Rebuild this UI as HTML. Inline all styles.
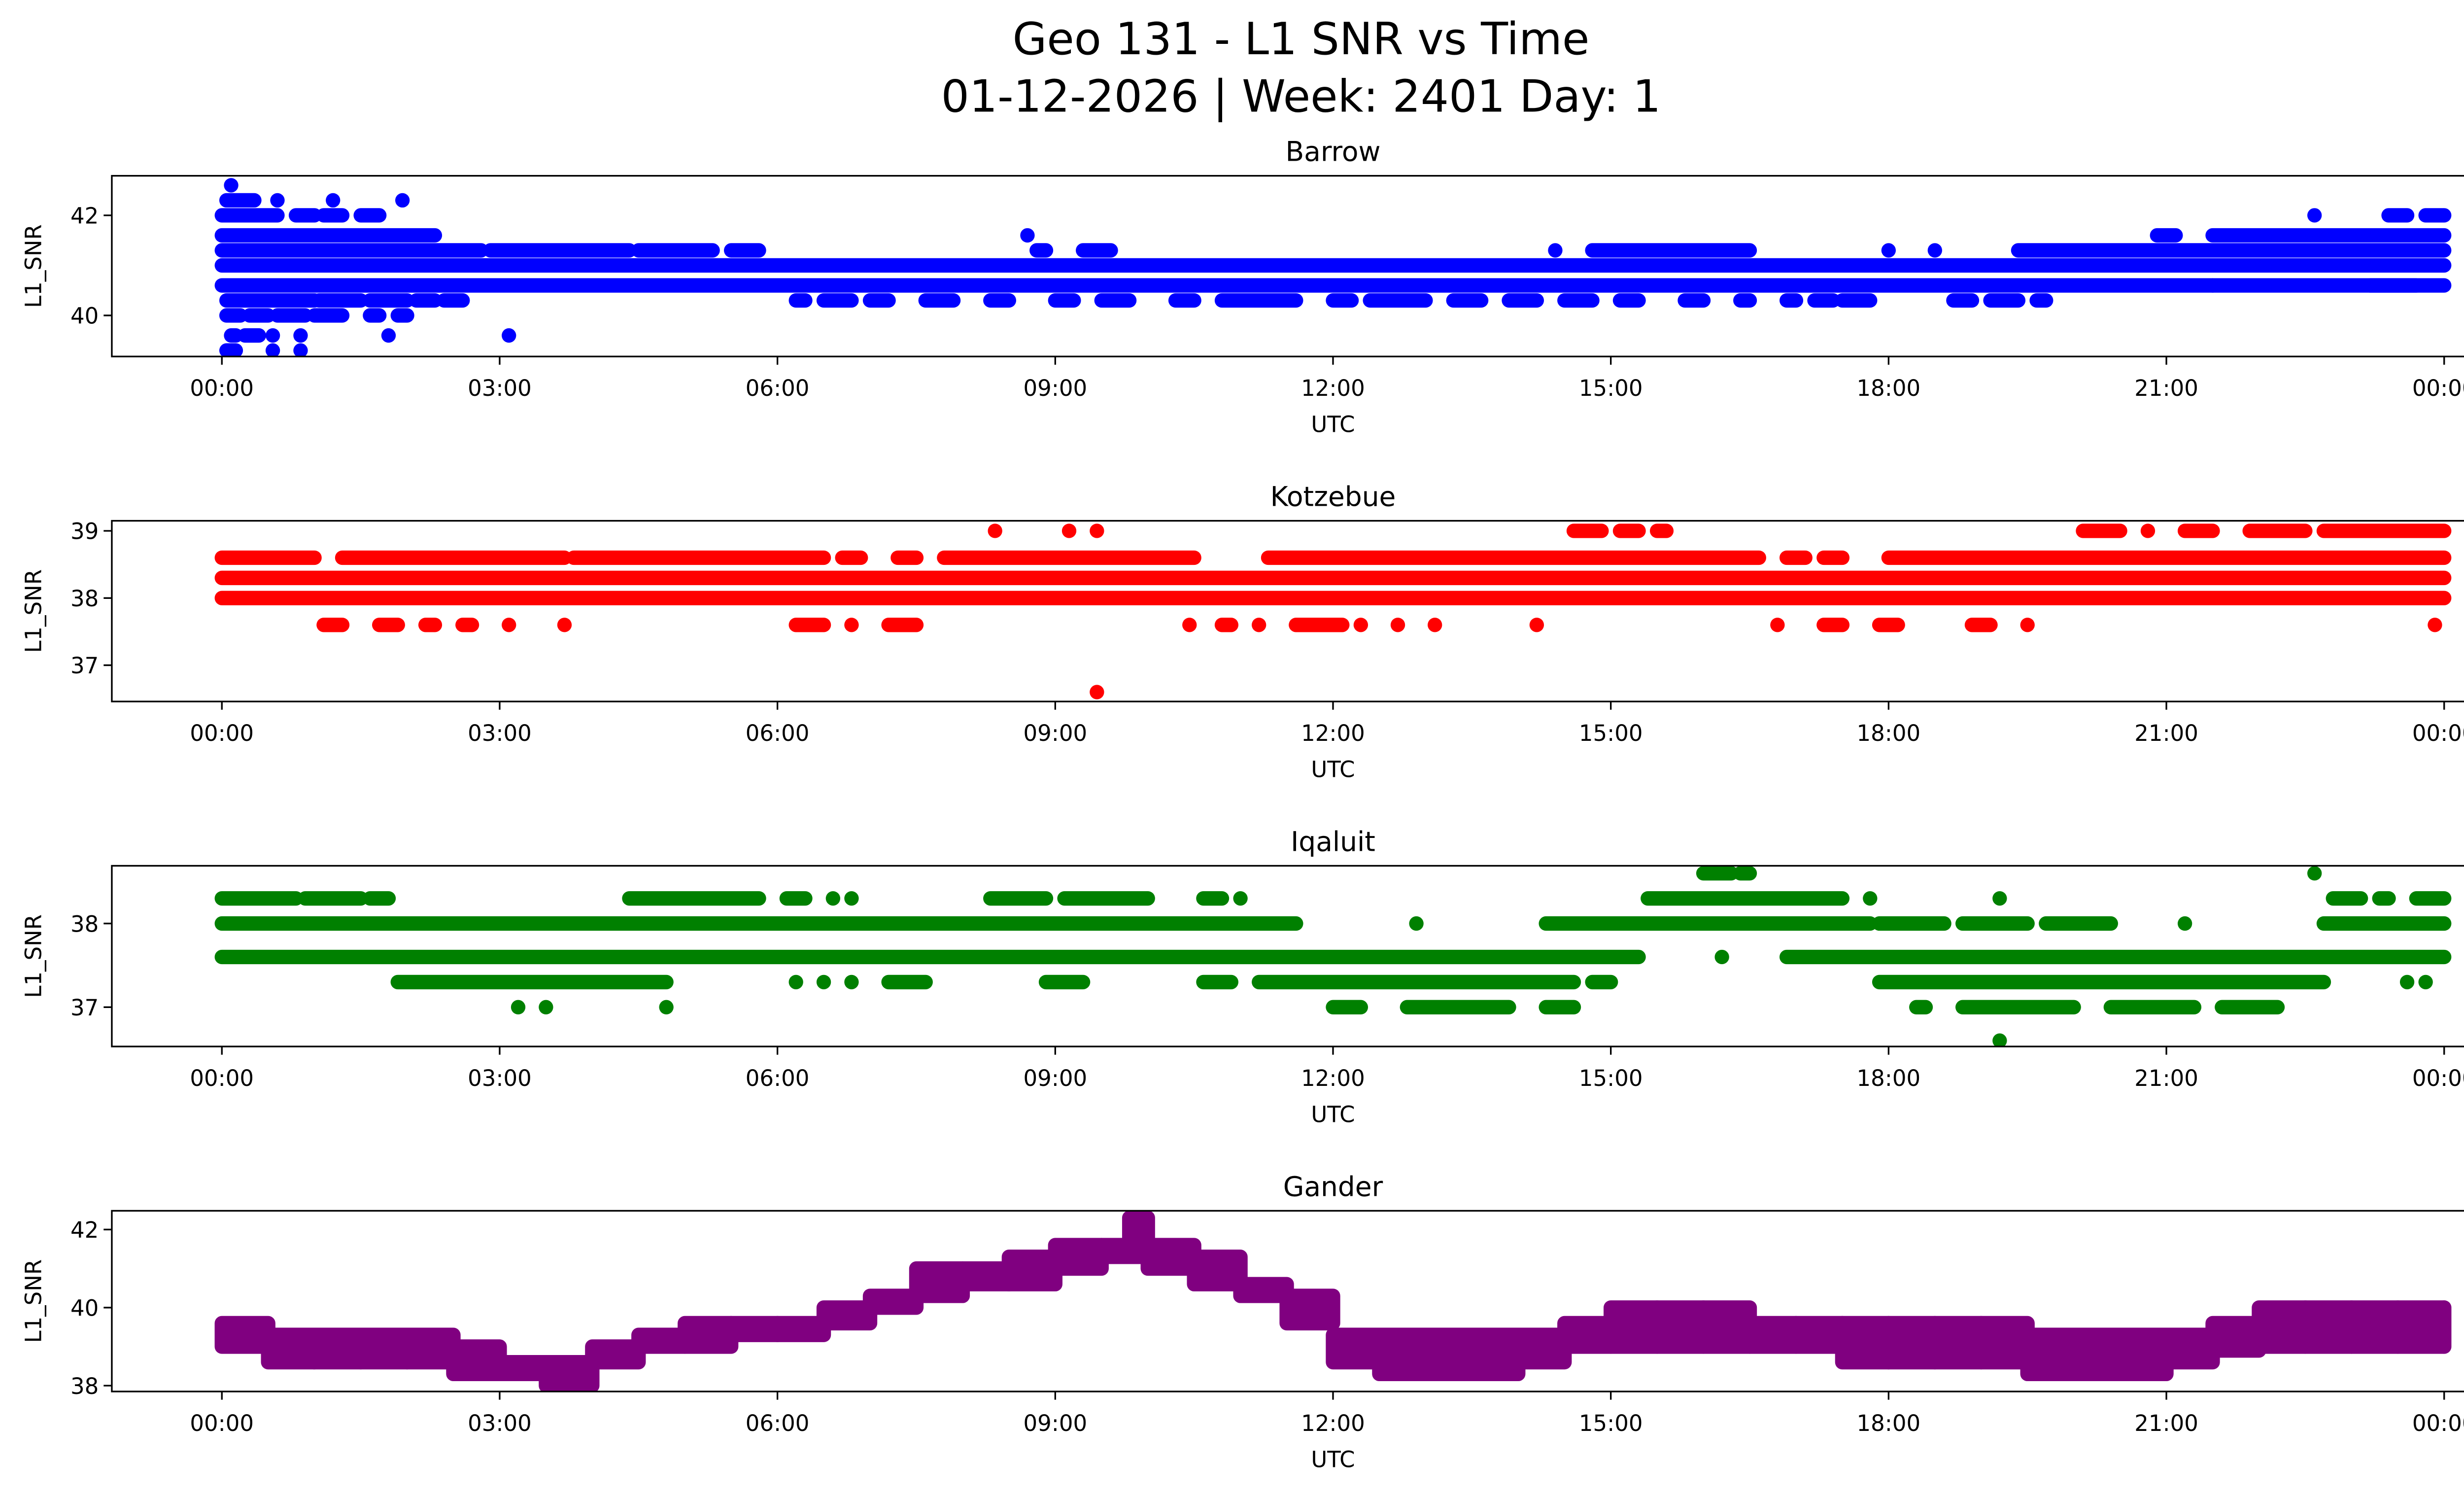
<!DOCTYPE html>
<html><head><meta charset="utf-8"><style>
html,body{margin:0;padding:0;background:#fff}
svg{display:block}
text{font-family:"DejaVu Sans","Liberation Sans",sans-serif;fill:#000}
</style></head><body>
<svg id="fig" width="5225" height="3033" viewBox="0 0 1567.5 910" xmlns="http://www.w3.org/2000/svg">
<rect width="1567.5" height="910" fill="#fff"/>
<text x="792" y="33" font-size="27" text-anchor="middle">Geo 131 - L1 SNR vs Time</text>
<text x="792" y="68" font-size="27" text-anchor="middle">01-12-2026 | Week: 2401 Day: 1</text>
<g id="plots"></g>
</svg>
<script>
// ---- data ----
const xTickLabels = ["00:00","03:00","06:00","09:00","12:00","15:00","18:00","21:00","00:00"];
const xTickHours = [0,3,6,9,12,15,18,21,24];
const stations = ["Barrow","Kotzebue","Iqaluit","Gander"];
const colors = ["#0000ff","#ff0000","#008000","#800080"];
const yDomains = [[39.18,42.79],[36.46,39.15],[36.53,38.69],[37.85,42.48]];
const yTicks = [[40,42],[37,38,39],[37,38],[38,40,42]];

// Barrow: [level, startHour, endHour] runs of consecutive samples
const barrowRuns = [
 [41.0,0,24],[40.6,0,24],
 [41.3,0,2.8],[41.3,2.9,4.4],[41.3,4.5,5.3],[41.3,5.5,5.8],[41.3,14.8,16.5],[41.3,19.4,24],
 [41.6,0,2.3],[41.6,20.9,21.1],[41.6,21.5,24],
 [42.0,0,0.6],[42.0,0.8,1.0],[42.0,1.1,1.3],[42.0,1.5,1.7],[42.0,22.6,22.6],[42.0,23.4,23.6],[42.0,23.8,24],
 [42.3,0.05,0.35],[42.3,0.6,0.6],[42.3,1.2,1.2],[42.3,1.95,1.95],[42.6,0.1,0.1],
 [40.3,0.05,1.0],[40.3,1.05,1.5],[40.3,1.6,2.0],[40.3,2.1,2.3],[40.3,2.4,2.6],
 [40.3,6.2,6.3],[40.3,6.5,6.8],[40.3,7.0,7.2],[40.3,7.6,7.9],[40.3,8.3,8.5],[40.3,9.0,9.2],[40.3,9.5,9.8],[40.3,10.3,10.5],
 [40.3,10.8,11.6],[40.3,12.0,12.2],[40.3,12.4,13.0],[40.3,13.3,13.6],[40.3,13.9,14.2],[40.3,14.5,14.8],[40.3,15.1,15.3],[40.3,15.8,16.0],
 [40.3,16.4,16.5],[40.3,16.9,17.0],[40.3,17.2,17.4],[40.3,17.5,17.8],[40.3,18.7,18.9],[40.3,19.1,19.4],[40.3,19.6,19.7],
 [40.0,0.05,0.2],[40.0,0.3,0.5],[40.0,0.6,0.9],[40.0,1.0,1.3],[40.0,1.6,1.7],[40.0,1.9,2.0],
 [39.6,0.1,0.15],[39.6,0.25,0.4],[39.6,0.55,0.55],[39.6,0.85,0.85],[39.6,1.8,1.8],[39.6,3.1,3.1],
 [39.3,0.05,0.15],[39.3,0.55,0.55],[39.3,0.85,0.85],
 [41.6,8.7,8.7],[41.3,8.8,8.9],[41.3,9.3,9.6],[41.3,14.4,14.4],[41.3,18.0,18.0],[41.3,18.5,18.5],[40.6,21.5,21.5],[40.6,23.2,23.7]
];
// Kotzebue runs
const kotzebueRuns = [
 [38.3,0,24],[38.0,0,24],
 [38.6,0,1.0],[38.6,1.3,3.7],[38.6,3.8,6.5],[38.6,6.7,6.9],[38.6,7.3,7.5],[38.6,7.8,10.5],[38.6,11.3,16.6],[38.6,16.9,17.1],[38.6,17.3,17.5],[38.6,18.0,24],
 [39.0,8.35,8.35],[39.0,9.15,9.15],[39.0,9.45,9.45],[39.0,14.6,14.9],[39.0,15.1,15.3],[39.0,15.5,15.6],[39.0,20.1,20.5],[39.0,20.8,20.8],[39.0,21.2,21.5],[39.0,21.9,22.5],[39.0,22.7,24],
 [37.6,1.1,1.3],[37.6,1.7,1.9],[37.6,2.2,2.3],[37.6,2.6,2.7],[37.6,3.1,3.1],[37.6,3.7,3.7],[37.6,6.2,6.5],[37.6,6.8,6.8],[37.6,7.2,7.5],
 [37.6,10.45,10.45],[37.6,10.8,10.9],[37.6,11.2,11.2],[37.6,11.6,12.1],[37.6,12.3,12.3],[37.6,12.7,12.7],[37.6,13.1,13.1],[37.6,14.2,14.2],
 [37.6,16.8,16.8],[37.6,17.3,17.5],[37.6,17.9,18.1],[37.6,18.9,19.1],[37.6,19.5,19.5],[37.6,23.9,23.9],
 [36.6,9.45,9.45]
];
// Iqaluit runs
const iqaluitRuns = [
 [37.6,0,15.3],[37.6,16.2,16.2],[37.6,16.9,24],
 [38.0,0,11.6],[38.0,12.9,12.9],[38.0,14.3,17.8],[38.0,17.9,18.6],[38.0,18.8,19.5],[38.0,19.7,20.4],[38.0,21.2,21.2],[38.0,22.7,24],
 [38.3,0,0.8],[38.3,0.9,1.5],[38.3,1.6,1.8],[38.3,4.4,5.8],[38.3,6.1,6.3],[38.3,6.6,6.6],[38.3,6.8,6.8],[38.3,8.3,8.9],[38.3,9.1,10.0],[38.3,10.6,10.8],[38.3,11.0,11.0],[38.3,15.4,17.5],[38.3,17.8,17.8],[38.3,19.2,19.2],[38.3,22.8,23.1],[38.3,23.3,23.4],[38.3,23.7,24],
 [38.6,16.0,16.3],[38.6,16.4,16.5],[38.6,22.6,22.6],
 [37.3,1.9,4.8],[37.3,6.2,6.2],[37.3,6.5,6.5],[37.3,6.8,6.8],[37.3,7.2,7.6],[37.3,8.9,9.3],[37.3,10.6,10.9],[37.3,11.2,14.6],[37.3,14.8,15.0],[37.3,17.9,22.7],[37.3,23.6,23.6],[37.3,23.8,23.8],
 [37.0,3.2,3.2],[37.0,3.5,3.5],[37.0,4.8,4.8],[37.0,12.0,12.3],[37.0,12.8,13.9],[37.0,14.3,14.6],[37.0,18.3,18.4],[37.0,18.8,20.0],[37.0,20.4,21.3],[37.0,21.6,22.2],
 [36.6,19.2,19.2]
];
// Gander: sample hour, lowest and highest SNR observed in the bin
const ganderHours = [0,0.5,1,1.5,2,2.5,3,3.5,4,4.5,5,5.5,6,6.5,7,7.5,8,8.5,9,9.5,9.8,10,10.5,11,11.5,12,12.5,13,13.5,14,14.5,15,15.5,16,16.5,17,17.5,18,18.5,19,19.5,20,20.5,21,21.5,22,22.5,23,23.5,24];
const ganderLow  = [39.0,38.6,38.6,38.6,38.6,38.3,38.3,38.0,38.6,39.0,39.0,39.3,39.3,39.6,40.0,40.3,40.6,40.6,41.0,41.3,41.3,41.0,40.6,40.3,39.6,38.6,38.3,38.3,38.3,38.6,39.0,39.0,39.0,39.0,39.0,39.0,38.6,38.6,38.6,38.6,38.3,38.3,38.3,38.6,38.9,39.0,39.0,39.0,39.0,39.0];
const ganderHigh = [39.6,39.3,39.3,39.3,39.3,39.0,38.6,38.6,39.0,39.3,39.6,39.6,39.6,40.0,40.3,41.0,41.0,41.3,41.6,41.6,42.3,41.6,41.3,40.6,40.3,39.3,39.3,39.3,39.3,39.3,39.6,40.0,40.0,40.0,39.6,39.6,39.6,39.6,39.6,39.6,39.3,39.3,39.3,39.3,39.6,40.0,40.0,40.0,40.0,40.0];

// ---- drawing ----
const NS="http://www.w3.org/2000/svg";
const root=document.getElementById('plots');
const L=68,R=1555,H=110,tops=[107,317,527,737],x0=135,x1=1488,rad=4.4;
const xs=h=>x0+(x1-x0)*h/24;
function mk(tag,attrs,parent){const e=document.createElementNS(NS,tag);for(const k in attrs)e.setAttribute(k,attrs[k]);(parent||root).appendChild(e);return e;}
const allRuns=[barrowRuns,kotzebueRuns,iqaluitRuns,null];
stations.forEach((name,i)=>{
  const top=tops[i],bot=top+H,[d0,d1]=yDomains[i];
  const ys=v=>bot-(v-d0)/(d1-d0)*H;
  const g=mk('g',{});
  
  
  const clip=mk('clipPath',{id:'c'+i},g);mk('rect',{x:L,y:top,width:R-L,height:H},clip);
  const marks=mk('g',{'clip-path':'url(#c'+i+')'},g);
  if(allRuns[i]){
    allRuns[i].forEach(r=>{
      const ln=mk('line',{x1:xs(r[1]),x2:xs(r[2]),y1:ys(r[0]),y2:ys(r[0]),stroke:colors[i],'stroke-width':rad*2,'stroke-linecap':'round'},marks);
      
      
    });
  } else {
    for(let k=0;k<ganderHours.length;k++){
      const a=ganderHours[k], b=k+1<ganderHours.length?ganderHours[k+1]:a;
      const yt=ys(ganderHigh[k])-rad, yb=ys(ganderLow[k])+rad;
      const rc=mk('rect',{x:xs(a)-rad,y:yt,width:xs(b)-xs(a)+rad*2,height:yb-yt,rx:rad,fill:colors[i]},marks);
      
      
    }
  }
  mk('rect',{x:L,y:top,width:R-L,height:H,fill:'none',stroke:'#000','stroke-width':1},g);
  const t=mk('text',{x:(L+R)/2,y:top-9,'font-size':16.5,'text-anchor':'middle'},g);t.textContent=name;
  
  
  xTickHours.forEach((h,j)=>{
    mk('line',{x1:xs(h),x2:xs(h),y1:bot,y2:bot+5,stroke:'#000','stroke-width':1},g);
    const tl=mk('text',{x:xs(h),y:bot+24,'font-size':13.5,'text-anchor':'middle'},g);tl.textContent=xTickLabels[j];
    
    
  });
  yTicks[i].forEach(v=>{
    mk('line',{x1:L-5,x2:L,y1:ys(v),y2:ys(v),stroke:'#000','stroke-width':1},g);
    const tl=mk('text',{x:L-8,y:ys(v)+5,'font-size':13.5,'text-anchor':'end'},g);tl.textContent=v;
    
    
  });
  const xl=mk('text',{x:(L+R)/2,y:bot+46,'font-size':13.5,'text-anchor':'middle'},g);xl.textContent='UTC';
  
  
  const yl=mk('text',{x:0,y:0,'font-size':13.5,'text-anchor':'middle',transform:'translate(25,'+(top+H/2)+') rotate(-90)'},g);yl.textContent='L1_SNR';
  
  
});
</script>
</body></html>
